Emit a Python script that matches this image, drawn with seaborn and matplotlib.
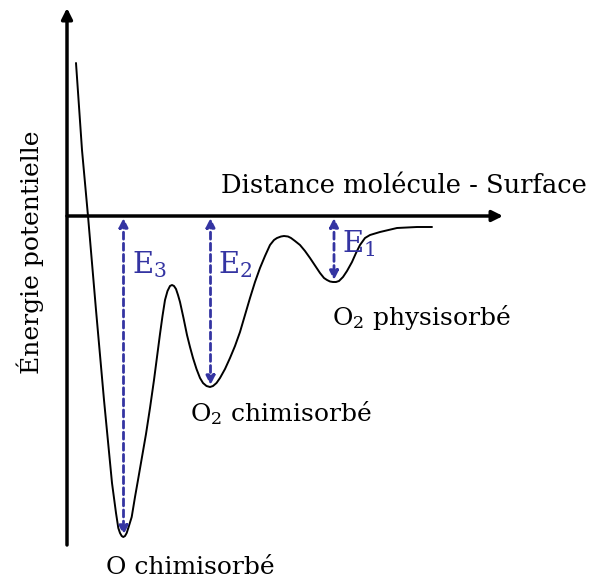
import matplotlib
matplotlib.use("Agg")
import matplotlib.pyplot as plt
import seaborn as sns

# Potential energy curve (distance, energy; axis origin at 0,0)
distance = [0.9, 1.5, 2.1, 2.9, 3.7, 4.5, 4.9, 5.13, 5.3, 5.47, 5.63, 5.8, 5.97, 6.13,
            6.47, 6.8, 7.1, 7.5, 7.9, 8.3, 8.7, 9.0, 9.3, 9.55, 9.8, 10.05, 10.3, 10.5,
            10.7, 10.9, 11.1, 11.3, 11.65, 12.0, 12.3, 12.6, 12.95, 13.3, 13.6, 13.95,
            14.3, 14.6, 14.95, 15.3, 15.8, 16.3, 16.8, 17.3, 17.8, 18.3, 18.8, 19.3,
            19.8, 20.3, 20.7, 21.0, 21.4, 21.7, 22.1, 22.4, 22.8, 23.3, 23.8, 24.3,
            24.8, 25.3, 25.7, 26.0, 26.3, 26.6, 26.9, 27.2, 27.6, 28.0, 28.5, 28.9,
            29.3, 29.8, 30.3, 31.3, 33.0, 35.0, 36.5]
energy = [15.3, 6.6, 0.0, -9.4, -18.4, -26.7, -29.7, -31.2, -31.7, -32.0, -32.1, -32.0,
          -31.7, -31.2, -30.1, -28.1, -26.4, -24.1, -21.8, -19.2, -16.4, -14.1, -11.8,
          -10.0, -8.4, -7.5, -7.0, -6.9, -7.0, -7.3, -7.9, -8.6, -10.2, -11.9, -13.1,
          -14.2, -15.3, -16.2, -16.7, -17.0, -17.1, -17.0, -16.7, -16.2, -15.3, -14.2,
          -13.0, -11.6, -9.9, -8.2, -6.6, -5.2, -4.0, -2.9, -2.4, -2.2, -2.05, -2.0,
          -2.05, -2.2, -2.5, -2.9, -3.5, -4.2, -4.95, -5.7, -6.2, -6.4, -6.55, -6.6,
          -6.6, -6.5, -6.1, -5.5, -4.6, -3.7, -2.9, -2.2, -1.9, -1.6, -1.2, -1.1, -1.1]

# wells: position, depth, label
well_x = [5.65, 14.35, 26.7]
well_e = [-32.1, -17.1, -6.6]
well_names = ["E$_3$", "E$_2$", "E$_1$"]
state_labels = ["O chimisorbé", "O$_2$ chimisorbé", "O$_2$ physisorbé"]

sns.set_style("white")
plt.rcParams["font.family"] = ["DejaVu Serif"]
plt.rcParams["mathtext.fontset"] = "dejavuserif"
plt.rcParams["text.color"] = "black"

blue = "#3434a2"

fig = plt.figure(figsize=(5.96, 5.85), dpi=100)
ax = fig.add_axes([0, 0, 1, 1])
ax.set_xlim(-6.7, 52.9)
ax.set_ylim(-36.9, 21.6)
ax.axis("off")

sns.lineplot(x=distance, y=energy, color="black", lw=1.4, sort=False,
             estimator=None, ax=ax, solid_joinstyle="round")

# axes with arrow heads
ax.annotate("", xy=(0, 20.8), xytext=(0, -32.9),
            arrowprops=dict(arrowstyle="-|>", lw=2.5, color="black",
                            mutation_scale=16, shrinkA=0, shrinkB=0))
ax.annotate("", xy=(43.6, 0), xytext=(0, 0),
            arrowprops=dict(arrowstyle="-|>", lw=2.5, color="black",
                            mutation_scale=16, shrinkA=0, shrinkB=0))

# energy arrows
for x, e, name in zip(well_x, well_e, well_names):
    ax.annotate("", xy=(x, e + 0.2), xytext=(x, -0.2),
                arrowprops=dict(arrowstyle="<|-|>", lw=2, color=blue,
                                linestyle=(0, (2.5, 1.5)), mutation_scale=13,
                                shrinkA=0, shrinkB=0))
    ax.text(x + 0.8, -3.3 if e < -10 else -1.2, name, color=blue, fontsize=21,
            ha="left", va="top")

ax.text(15.4, 1.8, "Distance molécule - Surface", fontsize=18.5, ha="left",
        va="bottom")
ax.text(-3.7, -3.6, "Énergie potentielle", fontsize=18, rotation=90,
        ha="center", va="center")
ax.text(12.3, -35.2, state_labels[0], fontsize=18, ha="center", va="center")
ax.text(21.4, -19.7, state_labels[1], fontsize=18, ha="center", va="center")
ax.text(35.4, -10.2, state_labels[2], fontsize=18, ha="center", va="center")

fig.savefig("out.png", dpi=100)
